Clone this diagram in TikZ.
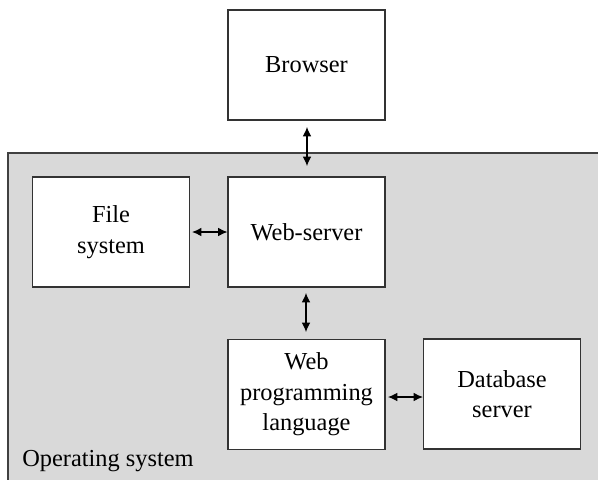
\documentclass[tikz,border=0pt]{standalone}
\usepackage{fontspec}
\setmainfont{Liberation Serif}
\usetikzlibrary{arrows.meta}
\begin{document}
\begin{tikzpicture}[x=0.75pt,y=-0.75pt,
  box/.style={draw=black!80,line width=0.9pt,fill=white,minimum width=117.75pt,minimum height=82.5pt,inner sep=0pt,align=center,font=\fontsize{18.3pt}{22.9pt}\selectfont},
  conn/.style={line width=0.8pt,{Latex[length=7pt,width=6.5pt]}-{Latex[length=7pt,width=6.5pt]}}]
\useasboundingbox (0,0) rectangle (598,479);
\fill[white] (0,0) rectangle (598,479);
\draw[draw=black!75,fill=black!15,line width=1.1pt] (8,153) rectangle (600,485);
\node[box] (browser) at (306.5,65) {Browser};
\node[box] (file) at (111,232) {File\\system};
\node[box] (web) at (306.5,232) {Web-server};
\node[box] (wpl) at (306.5,394.5) {Web\\programming\\language};
\node[box] (db) at (502,394) {Database\\server};
\node[anchor=base west,inner sep=0pt,font=\fontsize{18.3pt}{22.9pt}\selectfont] (os) at (22,466) {Operating system};
\coordinate (a1) at (307,127);
\coordinate (a2) at (307,166);
\draw[conn] (a1) -- (a2);
\coordinate (b1) at (306,293);
\coordinate (b2) at (306,332);
\draw[conn] (b1) -- (b2);
\draw[conn] ([xshift=1.5pt]file.east) -- (web.west);
\coordinate (c1) at (388,397);
\draw[conn] (c1) -- (c1-|db.west);
\end{tikzpicture}
\end{document}
